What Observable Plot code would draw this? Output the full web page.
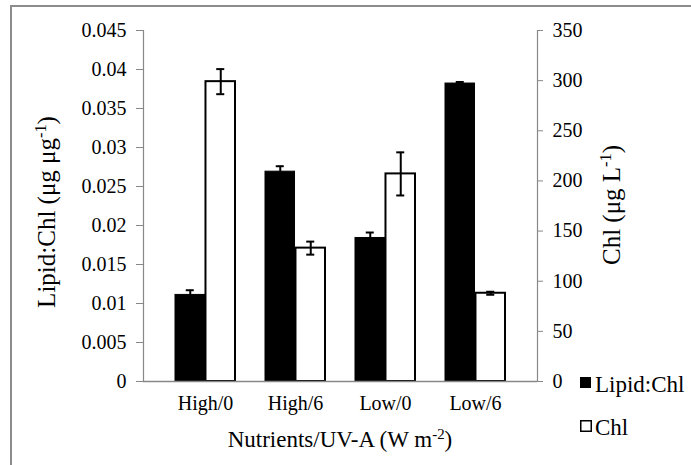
<!DOCTYPE html>
<html>
<head>
<meta charset="utf-8">
<script src="https://cdn.jsdelivr.net/npm/d3@7"></script>
<script src="https://cdn.jsdelivr.net/npm/@observablehq/plot@0.6"></script>
<style>
  html, body { margin: 0; padding: 0; background: white; }
  #chart { width: 691px; height: 465px; position: relative; }
  #chart svg text { font-family: "Liberation Serif", Tinos, "Times New Roman", Times, "DejaVu Serif", serif; }
</style>
</head>
<body>
<div id="chart"></div>
<script>
// ---- data ----
const categories = ["High/0", "High/6", "Low/0", "Low/6"];
const lipidChl = [0.0111, 0.0269, 0.0184, 0.0382];
const lipidChlErr = [0.0006, 0.0007, 0.0007, 0.0002];
const chl = [299, 133, 207, 88];
const chlErr = [12.5, 6.5, 21.5, 1.5];
const leftTicks = [0, 0.005, 0.01, 0.015, 0.02, 0.025, 0.03, 0.035, 0.04, 0.045];
const rightTicks = [0, 50, 100, 150, 200, 250, 300, 350];
const leftMax = 0.045, rightMax = 350;

// ---- layout ----
const W = 691, H = 465;
const mL = 143, mR = 154, mT = 30, mB = 84;
const pad = 0.33;
const step = (W - mL - mR) / (categories.length + pad);
const bw = step * (1 - pad);
const half = bw / 2;
const q = bw / 4;
const capW = 9;
const k = leftMax / rightMax; // maps right-axis units to left-axis units
const font = 'Liberation Serif, Tinos, Times New Roman, Times, DejaVu Serif, serif';

const rows = categories.map((c, i) => ({
  cat: c,
  lipid: lipidChl[i], lipidErr: lipidChlErr[i],
  chl: chl[i], chlErr: chlErr[i]
}));

const svg = Plot.plot({
  width: W, height: H,
  marginLeft: mL, marginRight: mR, marginTop: mT, marginBottom: mB,
  style: {fontFamily: font, fontSize: "20px", color: "black", background: "white", overflow: "visible"},
  x: {domain: categories, padding: pad, label: null, axis: null},
  y: {domain: [0, leftMax], label: null, axis: null},
  marks: [
    Plot.frame({anchor: "left", stroke: "#888", strokeWidth: 1.2}),
    Plot.frame({anchor: "right", stroke: "#888", strokeWidth: 1.2}),
    Plot.barY(rows, {x: "cat", y: "lipid", fill: "black", stroke: "black", strokeWidth: 1, insetRight: half}),
    Plot.barY(rows, {x: "cat", y: d => d.chl * k, fill: "white", stroke: "black", strokeWidth: 2, insetLeft: half}),
    Plot.ruleY([0], {stroke: "#888", strokeWidth: 1.5}),
    // error bars Lipid:Chl
    Plot.ruleX(rows, {x: "cat", y1: d => d.lipid - d.lipidErr, y2: d => d.lipid + d.lipidErr, dx: -q, stroke: "black", strokeWidth: 2}),
    Plot.tickY(rows, {x: "cat", y: d => d.lipid + d.lipidErr, dx: -q, inset: (bw - capW) / 2, stroke: "black", strokeWidth: 2}),
    // error bars Chl
    Plot.ruleX(rows, {x: "cat", y1: d => (d.chl - d.chlErr) * k, y2: d => (d.chl + d.chlErr) * k, dx: q, stroke: "black", strokeWidth: 2}),
    Plot.tickY(rows, {x: "cat", y: d => (d.chl + d.chlErr) * k, dx: q, inset: (bw - capW) / 2, stroke: "black", strokeWidth: 2}),
    Plot.tickY(rows, {x: "cat", y: d => (d.chl - d.chlErr) * k, dx: q, inset: (bw - capW) / 2, stroke: "black", strokeWidth: 2}),
    // axes
    Plot.axisX({tickSize: 0, tickPadding: 14, fontSize: 20}),
    Plot.axisY(leftTicks, {anchor: "left", tickSize: 7, tickPadding: 10, fontSize: 20,
      tickFormat: d => String(+d.toFixed(3))}),
    Plot.axisY(rightTicks.map(v => v * k), {anchor: "right", tickSize: 5, tickPadding: 10, fontSize: 20,
      tickFormat: d => String(Math.round(d / k))})
  ]
});

const s = d3.select(svg);
s.selectAll('[aria-label="y-axis tick"]').attr("stroke", "#888");

// chart-area border
s.append("rect").attr("x", 11).attr("y", 6).attr("width", 720).attr("height", 500)
  .attr("fill", "none").attr("stroke", "#8c8c8c").attr("stroke-width", 2);

function titleWithSup(sel, base, sup, tail) {
  sel.append("tspan").text(base);
  sel.append("tspan").attr("baseline-shift", "super").attr("font-size", "0.65em").text(sup);
  sel.append("tspan").text(tail);
}

// left axis title
titleWithSup(
  s.append("text").attr("transform", "translate(55,212) rotate(-90)")
    .attr("text-anchor", "middle").attr("font-size", 25).attr("fill", "black"),
  "Lipid:Chl (\u03bcg \u03bcg", "-1", ")");

// right axis title
titleWithSup(
  s.append("text").attr("transform", "translate(620,205) rotate(-90)")
    .attr("text-anchor", "middle").attr("font-size", 25).attr("fill", "black"),
  "Chl (\u03bcg L", "-1", ")");

// x axis title
titleWithSup(
  s.append("text").attr("x", (mL + W - mR) / 2).attr("y", 447)
    .attr("text-anchor", "middle").attr("font-size", 23).attr("fill", "black"),
  "Nutrients/UV-A (W m", "-2", ")");

// legend
const legend = s.append("g").attr("font-size", 23).attr("fill", "black").attr("text-anchor", "start");
legend.append("rect").attr("x", 580).attr("y", 377).attr("width", 11).attr("height", 11).attr("fill", "black");
legend.append("text").attr("x", 595).attr("y", 392).text("Lipid:Chl");
legend.append("rect").attr("x", 580.75).attr("y", 420.75).attr("width", 10.5).attr("height", 10.5)
  .attr("fill", "white").attr("stroke", "black").attr("stroke-width", 1.5);
legend.append("text").attr("x", 595).attr("y", 435).text("Chl");

document.getElementById("chart").appendChild(svg);
</script>
</body>
</html>
